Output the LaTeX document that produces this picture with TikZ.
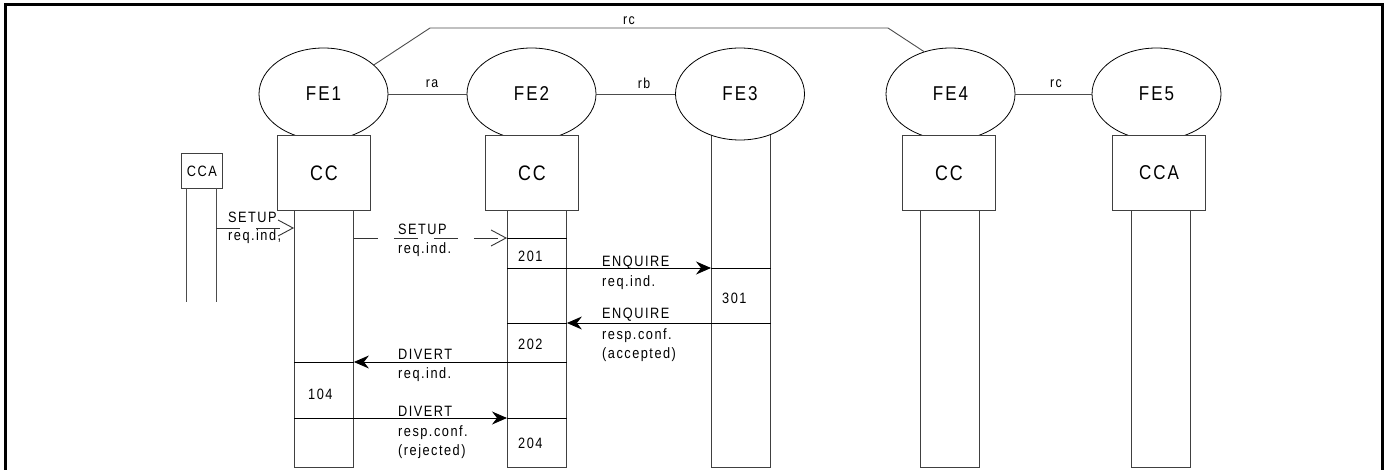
\documentclass[tikz,border=0pt]{standalone}
\usepackage{fontspec}
\setmainfont{Liberation Sans}
\newfontfamily\labf[FakeStretch=0.85,LetterSpace=10]{Liberation Sans}
\usetikzlibrary{shapes.geometric,arrows.meta}
\begin{document}
\begin{tikzpicture}[x=1pt,y=-1pt,
 every node/.style={inner sep=0pt},
 fe/.style={ellipse,draw=black,line width=0.8pt,fill=white,minimum width=129pt,minimum height=92pt,font=\labf\fontsize{20}{24}\selectfont},
 ccbox/.style={rectangle,draw=black!75,line width=0.9pt,fill=white,anchor=north west,minimum width=93pt,minimum height=75pt,font=\labf\fontsize{21}{24}\selectfont},
 lane/.style={rectangle,draw=black!75,line width=0.9pt,anchor=north west,minimum width=59pt,minimum height=257pt},
 lbl/.style={anchor=base west,font=\labf\fontsize{15}{18}\selectfont},
 rlbl/.style={anchor=base,font=\labf\fontsize{14.5}{16}\selectfont},
 link/.style={draw=black!70,line width=0.9pt},
 msg/.style={draw=black,line width=0.9pt,-{Stealth[length=15pt,width=13pt,inset=5pt]}},
 dmsg/.style={draw=black!80,line width=0.9pt,dash pattern=on 24pt off 16pt,-{Straight Barb[length=15pt,width=16pt]}},
 cross/.style={draw=black,line width=0.9pt}]
\useasboundingbox (0,0) rectangle (1389,470);
% frame
\draw[line width=3pt] (5,490) -- (5,5) -- (1382,5) -- (1382,490);

% lanes
\node[lane] (L1) at (294,210) {};
\node[lane] (L2) at (507,210) {};
\node[lane,minimum height=347pt] (L3) at (711,120) {};
\node[lane] (L4) at (920,210) {};
\node[lane] (L5) at (1131,210) {};

% functional entities
\node[fe] (FE1) at (323.5,94) {FE1};
\node[fe] (FE2) at (531.5,94) {FE2};
\node[fe] (FE3) at (740,94) {FE3};
\node[fe] (FE4) at (950.5,94) {FE4};
\node[fe] (FE5) at (1156.5,94) {FE5};

% CC boxes
\node[ccbox] (B1) at (277,135) {CC};
\node[ccbox] (B2) at (485,135) {CC};
\node[ccbox] (B4) at (902,135) {CC};
\node[ccbox,font=\labf\fontsize{20}{24}\selectfont] (B5) at (1112,135) {CCA};

% small CCA
\node[rectangle,draw=black!75,line width=0.9pt,minimum width=41pt,minimum height=35pt,anchor=north west,font=\labf\fontsize{15}{16}\selectfont] (C0) at (181,153) {CCA};
\coordinate (c0a) at (186,188);
\coordinate (c0b) at (216,188);
\draw[link] (c0a) -- (186,302);
\draw[link] (c0b) -- (216,302);

% relationships
\draw[link] (FE1.east) -- (FE2.west);
\draw[link] (FE2.east) -- (FE3.west);
\draw[link] (FE4.east) -- (FE5.west);
\coordinate (rcA) at (430,28);
\coordinate (rcB) at (888,28);
\draw[link] (FE1.30) -- (rcA) -- (rcB) -- (FE4.122);
\node[rlbl] (ra) at (432,88) {ra};
\node[rlbl] (rb) at (644,89) {rb};
\node[rlbl] (rc1) at (629,25) {rc};
\node[rlbl] (rc2) at (1056,88) {rc};

% message levels
\coordinate (m0) at (0,228);
\coordinate (m1) at (0,238);
\coordinate (m2) at (0,268);
\coordinate (m3) at (0,323);
\coordinate (m4) at (0,362);
\coordinate (m5) at (0,418);

% crossing lines in lanes
\draw[cross] (L2.west |- m1) -- (L2.east |- m1);
\draw[cross] (L2.west |- m2) -- (L2.east |- m2);
\draw[cross] (L3.east |- m2) -- (L3.west |- m2);
\draw[cross] (L2.west |- m3) -- (L2.east |- m3);
\draw[cross] (L3.east |- m3) -- (L3.west |- m3);
\draw[cross] (L1.west |- m4) -- (L1.east |- m4);
\draw[cross] (L2.west |- m4) -- (L2.east |- m4);
\draw[cross] (L1.west |- m5) -- (L1.east |- m5);
\draw[cross] (L2.west |- m5) -- (L2.east |- m5);

% messages
\draw[dmsg] (c0b |- m0) -- (L1.west |- m0);
\draw[dmsg] (L1.east |- m1) -- (L2.west |- m1);
\draw[msg] (L2.east |- m2) -- (L3.west |- m2);
\draw[msg] (L3.west |- m3) -- (L2.east |- m3);
\draw[msg] (L2.west |- m4) -- (L1.east |- m4);
\draw[msg] (L1.east |- m5) -- (L2.west |- m5);

% labels
\node[lbl] (t0a) at (228,223) {SETUP};
\node[lbl] (t0b) at (228,241) {req.ind,};
\node[lbl] (t1a) at (398,235) {SETUP};
\node[lbl] (t1b) at (398,254) {req.ind.};
\node[lbl] (t2a) at (602,267) {ENQUIRE};
\node[lbl] (t2b) at (602,287) {req.ind.};
\node[lbl] (t3a) at (602,319) {ENQUIRE};
\node[lbl] (t3b) at (602,339) {resp.conf.};
\node[lbl] (t3c) at (602,358) {(accepted)};
\node[lbl] (t4a) at (398,359) {DIVERT};
\node[lbl] (t4b) at (398,378) {req.ind.};
\node[lbl] (t5a) at (398,416) {DIVERT};
\node[lbl] (t5b) at (398,436) {resp.conf.};
\node[lbl] (t5c) at (398,455) {(rejected)};
\node[lbl] (n201) at (518,262) {201};
\node[lbl] (n202) at (518,349) {202};
\node[lbl] (n204) at (518,448) {204};
\node[lbl] (n301) at (722,304) {301};
\node[lbl] (n104) at (308,399) {104};
\end{tikzpicture}
\end{document}
